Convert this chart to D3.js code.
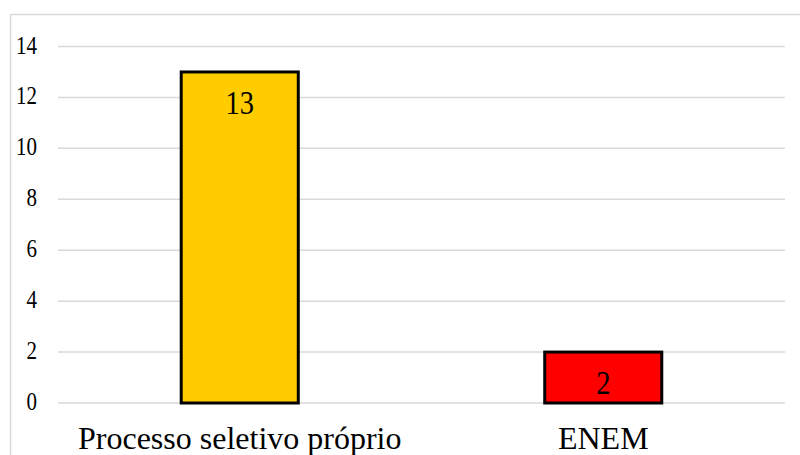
<!DOCTYPE html>
<html>
<head>
<meta charset="utf-8">
<script src="https://cdn.jsdelivr.net/npm/d3@7"></script>
</head>
<body style="margin:0">
<script>
// chart data
var categories = ["Processo seletivo próprio", "ENEM"];
var values = [13, 2];
var barColors = ["#FFCC00", "#FF0000"];
var yTicks = [0, 2, 4, 6, 8, 10, 12, 14];

var width = 800, height = 455;
var serif = '"Liberation Serif"';
var svg = d3.select("body").append("svg").attr("width", width).attr("height", height)
  .style("display", "block");

// outer chart frame (runs off the right / bottom edge)
svg.append("rect")
  .attr("x", 10.5).attr("y", 14.5)
  .attr("width", 800).attr("height", 460)
  .attr("fill", "none").attr("stroke", "#d9d9d9").attr("stroke-width", 1.5);

var plotLeft = 58, plotRight = 785, plotTop = 46.5, plotBottom = 403;

var y = d3.scaleLinear().domain([0, 14]).range([plotBottom, plotTop]);
var x = d3.scaleBand().domain(categories).range([plotLeft, plotRight])
  .paddingInner(0.678).paddingOuter(0.339);

// gridlines
svg.append("g").selectAll("line").data(yTicks).join("line")
  .attr("x1", plotLeft).attr("x2", plotRight)
  .attr("y1", d => y(d)).attr("y2", d => y(d))
  .attr("stroke", "#d9d9d9").attr("stroke-width", 1.5);

// y tick labels
svg.append("g").selectAll("text").data(yTicks).join("text")
  .attr("text-anchor", "end")
  .attr("transform", d => `translate(37,${y(d) + 7}) scale(1,1.16)`)
  .style("font-family", serif)
  .attr("font-size", 21).attr("fill", "#000")
  .text(d => d);

// bars
svg.append("g").selectAll("rect").data(values).join("rect")
  .attr("x", (d, i) => x(categories[i]))
  .attr("y", d => y(d))
  .attr("width", x.bandwidth())
  .attr("height", d => y(0) - y(d))
  .attr("fill", (d, i) => barColors[i])
  .attr("stroke", "#000").attr("stroke-width", 3);

// value labels
svg.append("g").selectAll("text").data(values).join("text")
  .attr("text-anchor", "middle")
  .attr("transform", (d, i) => `translate(${x(categories[i]) + x.bandwidth() / 2},${y(d) + 42}) scale(1,1.15)`)
  .style("font-family", serif)
  .attr("font-size", 28.5).attr("fill", "#000")
  .text(d => d);

// category labels
svg.append("g").selectAll("text").data(categories).join("text")
  .attr("text-anchor", "middle")
  .attr("x", d => x(d) + x.bandwidth() / 2)
  .attr("y", 449)
  .style("font-family", serif)
  .attr("font-size", 32).attr("fill", "#000")
  .text(d => d);
</script>
</body>
</html>
